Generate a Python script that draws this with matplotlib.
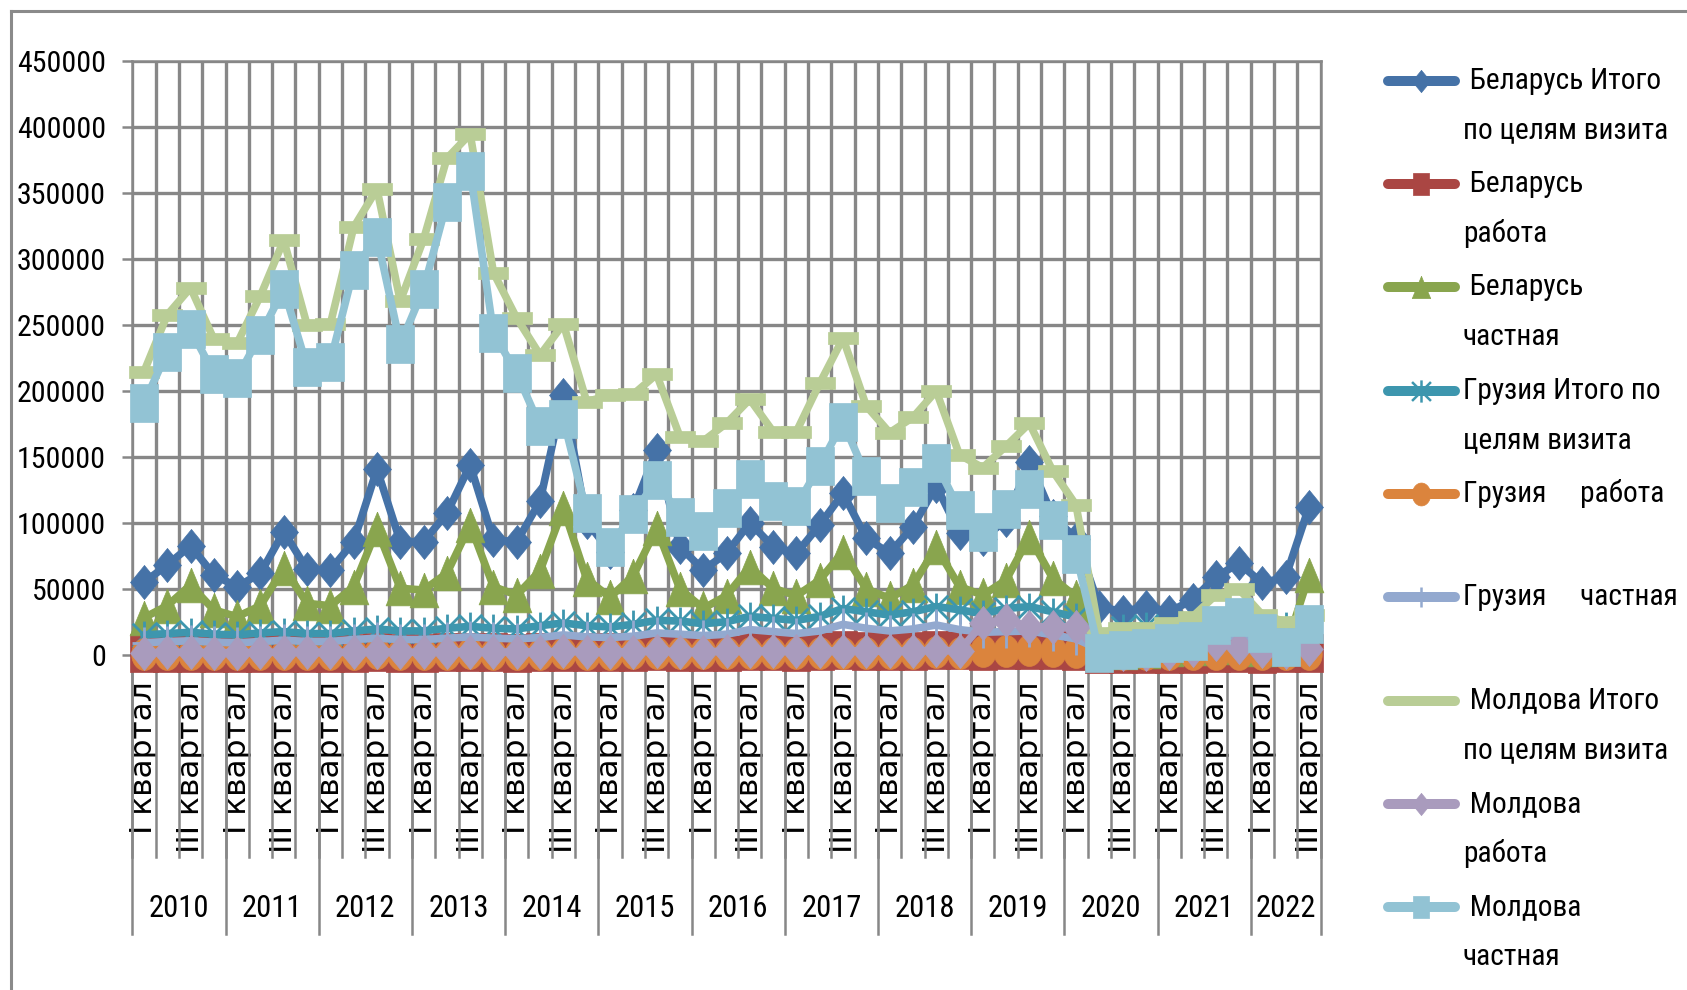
import os
import numpy as np
import matplotlib
matplotlib.use("Agg")
import matplotlib.pyplot as plt
from matplotlib import font_manager
from matplotlib.font_manager import FontProperties
from matplotlib.lines import Line2D
from matplotlib.path import Path
import matplotlib.transforms as mtransforms

# ---------------- data ----------------
years = ['2010', '2011', '2012', '2013', '2014', '2015', '2016',
         '2017', '2018', '2019', '2020', '2021', '2022']
quarters_per_year = [4, 4, 4, 4, 4, 4, 4, 4, 4, 4, 4, 4, 3]
quarter_names = ['I квартал', 'II квартал', 'III квартал', 'IV квартал']

series_names = ['Беларусь Итого по целям визита', 'Беларусь работа', 'Беларусь частная',
                'Грузия Итого по целям визита', 'Грузия     работа', 'Грузия     частная',
                'Молдова Итого по целям визита', 'Молдова работа', 'Молдова частная']
legend_labels = [' Беларусь Итого\nпо целям визита', ' Беларусь\nработа', ' Беларусь\nчастная',
                 'Грузия Итого по\nцелям визита', 'Грузия     работа', 'Грузия     частная',
                 ' Молдова Итого\nпо целям визита', ' Молдова\nработа', ' Молдова\nчастная']

belarus_total = [54800, 68000, 82600, 60400, 51500, 61700, 93200, 64700, 64200, 85600,
                 140500, 85600, 85600, 107100, 143700, 86900, 85600, 116400, 197000, 100800,
                 78000, 110000, 155100, 81800, 64200, 76800, 100000, 81800, 76800, 98300,
                 122300, 88200, 76800, 97000, 128000, 92000, 88000, 102000, 146200, 105000,
                 88000, 36400, 32600, 36400, 32600, 41400, 59100, 69200, 54100, 59100, 112100]
belarus_work = [1200, 1300, 1500, 1200, 1100, 1300, 1600, 1300, 1300, 1500,
                1900, 1500, 1500, 1700, 2100, 1700, 1600, 1800, 2300, 1800,
                1700, 2000, 2500, 2100, 1900, 2300, 2900, 2500, 2400, 2800,
                3500, 3000, 2700, 3100, 3800, 3200, 2900, 3300, 3900, 3300,
                2800, 500, 600, 700, 700, 800, 1000, 1000, 900, 1000, 1500]
belarus_private = [28000, 37100, 52800, 33900, 28800, 37100, 65900, 38900, 37100, 51500,
                   95200, 50300, 49000, 61700, 98300, 51500, 45200, 63600, 110900, 57300,
                   43500, 59900, 95700, 49800, 35100, 44700, 66700, 50300, 44700, 56600,
                   78000, 49800, 42700, 52800, 81400, 51500, 45200, 56600, 89400, 57900,
                   43900, 3000, 2000, 3000, 4000, 5000, 6000, 7000, 4000, 5000, 60100]
georgia_total = [15000, 16000, 17000, 15500, 15000, 16500, 17500, 16000, 16000, 18000,
                 19500, 18000, 18000, 20000, 21500, 20000, 19500, 22000, 24000, 22000,
                 21000, 23000, 26000, 25500, 23500, 25000, 29000, 27500, 26000, 29000,
                 35000, 32500, 30000, 32500, 36500, 34000, 31000, 35000, 36500, 32500,
                 28500, 10000, 20000, 22000, 18000, 20000, 25000, 25000, 20000, 22000, 25000]
georgia_work = [600, 700, 800, 700, 600, 700, 900, 700, 700, 800,
                1000, 800, 800, 900, 1100, 900, 800, 900, 1200, 900,
                900, 1000, 1300, 1100, 1000, 1100, 1400, 1200, 1100, 1300,
                1600, 1400, 1300, 1400, 1700, 1500, 2500, 2800, 3200, 2700,
                2200, 300, 400, 500, 400, 500, 600, 600, 500, 600, 700]
georgia_private = [9000, 10000, 10500, 9500, 9000, 10000, 11000, 10000, 10000, 11500,
                   12500, 11500, 11500, 12500, 13500, 12500, 12000, 13000, 15000, 13500,
                   13000, 14000, 16500, 15500, 14500, 15500, 19000, 17500, 16000, 18000,
                   23000, 20000, 18000, 19500, 22500, 19000, 17000, 17500, 18000, 15000,
                   12000, 4000, 8000, 10000, 8000, 10000, 13000, 14000, 9000, 10000, 13000]
moldova_total = [214400, 257400, 278000, 239000, 236000, 272000, 314000, 249800, 250500, 323800,
                 352800, 268000, 314700, 376000, 394500, 289400, 254900, 227000, 250500, 191700,
                 196700, 197300, 212400, 165200, 161900, 175300, 193500, 169000, 169000, 205600,
                 239700, 188400, 168200, 179800, 199800, 151300, 141700, 158100, 175300, 139200,
                 113400, 16200, 20000, 20000, 23800, 28800, 45200, 49500, 30100, 25000, 30000]
moldova_work = [1500, 1700, 1900, 1600, 1500, 1700, 2000, 1700, 1700, 1900,
                2200, 1900, 1900, 2100, 2400, 2100, 2000, 2200, 2500, 2200,
                2100, 2300, 2700, 2400, 2300, 2500, 2900, 2600, 2500, 2700,
                3100, 2800, 2600, 2800, 3200, 2900, 23800, 26300, 21200, 21200,
                21200, 500, 600, 800, 1500, 3500, 8000, 6000, 3000, 2000, 4500]
moldova_private = [190500, 229300, 246500, 212900, 209800, 242400, 277000, 218100, 222100, 291400,
                   316400, 235100, 277000, 342700, 366400, 243500, 213200, 173000, 178600, 107100,
                   81600, 106800, 132400, 104300, 93500, 111100, 133400, 116700, 112700, 143000,
                   176300, 135400, 114700, 126800, 145000, 109600, 93200, 110100, 125800, 102000,
                   76300, 1500, 3500, 5000, 8600, 10400, 22500, 28800, 16200, 6100, 23000]

all_values = [belarus_total, belarus_work, belarus_private,
              georgia_total, georgia_work, georgia_private,
              moldova_total, moldova_work, moldova_private]

y_max, y_step = 450000, 50000

# ---------------- styles ----------------
W, H = 1687, 990
GRID = '#878787'

diamond = [(0, 1), (0.82, 0), (0, -1), (-0.82, 0), (0, 1)]
square = [(-0.72, -1), (0.72, -1), (0.72, 1), (-0.72, 1), (-0.72, -1)]
triangle = [(0, 1), (0.83, -1), (-0.83, -1), (0, 1)]
dash = [(-1, -0.38), (1, -0.38), (1, 0.38), (-1, 0.38), (-1, -0.38)]
th = np.linspace(0, 2 * np.pi, 40)
ellipse = list(zip(0.8 * np.cos(th), np.sin(th)))
star = Path([(-0.85, -0.85), (0.85, 0.85), (-0.85, 0.85), (0.85, -0.85), (0, -1), (0, 1)],
            [Path.MOVETO, Path.LINETO, Path.MOVETO, Path.LINETO, Path.MOVETO, Path.LINETO])
plus = Path([(-0.75, 0), (0.75, 0), (0, -1), (0, 1)],
            [Path.MOVETO, Path.LINETO, Path.MOVETO, Path.LINETO])

styles = [
    dict(color='#4572A7', marker=diamond, ms=24.5, lms=16, filled=True),
    dict(color='#AA4643', marker=square, ms=28, lms=16.5, filled=True),
    dict(color='#89A54E', marker=triangle, ms=25, lms=16, filled=True),
    dict(color='#3D96AE', marker=star, ms=20, lms=16, filled=False),
    dict(color='#DB843D', marker=ellipse, ms=23, lms=16.5, filled=True),
    dict(color='#93A9CF', marker=plus, ms=23, lms=14.5, filled=False),
    dict(color='#B9CD96', marker=dash, ms=21, lms=None, filled=True),
    dict(color='#A99BBD', marker=diamond, ms=24.5, lms=16, filled=True),
    dict(color='#92C3D4', marker=square, ms=28, lms=16.5, filled=True),
]

# ---------------- fonts ----------------
def find_font_file(keys):
    files = [f.fname for f in font_manager.fontManager.ttflist]
    for key in keys:
        for fn in files:
            if os.path.basename(fn).lower().startswith(key.lower()):
                return fn
    return None

narrow_file = find_font_file(['LiberationSansNarrow-Regular', 'RobotoCondensed-Regular',
                              'OpenSansCondensed-Light', 'DejaVuSansCondensed.ttf'])

def narrow(size):
    if narrow_file:
        return FontProperties(fname=narrow_file, size=size)
    return FontProperties(family='Liberation Sans', size=size * 0.85)

# ---------------- figure ----------------
fig = plt.figure(figsize=(W / 100, H / 100), dpi=100)
fig.patch.set_facecolor('white')
ax = fig.add_axes([132.3 / W, 1 - 654.7 / H, (1320.7 - 132.3) / W, 594 / H])

n = sum(quarters_per_year)
x = np.arange(n)

for i, (vals, st) in enumerate(zip(all_values, styles)):
    kw = dict(color=st['color'], lw=5.5, solid_joinstyle='round', solid_capstyle='round',
              marker=st['marker'], ms=st['ms'], mec=st['color'], clip_on=False, zorder=3 + i)
    if st['filled']:
        kw.update(mfc=st['color'], mew=0.5)
    else:
        kw.update(mfc='none', mew=2.0)
    ax.plot(x, vals, **kw)

ax.set_xlim(-0.5, n - 0.5)
ax.set_ylim(0, y_max)
yt = np.arange(0, y_max + 1, y_step)
ax.set_yticks(yt)
ax.set_yticklabels([str(int(v)) for v in yt])
for lab in ax.get_yticklabels():
    lab.set_fontproperties(narrow(21.5))

cat_labels = []
for yr, nq in zip(years, quarters_per_year):
    cat_labels += quarter_names[:nq]
ax.set_xticks(x[::2])
ax.set_xticklabels(cat_labels[::2], rotation=90, fontsize=22.5, family='DejaVu Sans')

ax.set_xticks(np.arange(-0.5, n, 1), minor=True)
ax.set_axisbelow(True)
ax.grid(True, which='minor', axis='x', color=GRID, lw=2.4)
ax.grid(True, which='major', axis='y', color=GRID, lw=2.4)
ax.tick_params(axis='x', which='both', length=0, pad=19.4)
ax.tick_params(axis='y', which='major', length=7, width=1.8, color=GRID, pad=12)
for sp in ax.spines.values():
    sp.set_color(GRID)
    sp.set_linewidth(1.8)

# multi-level category separators and year labels
bt = mtransforms.blended_transform_factory(ax.transData, ax.transAxes)
for b in range(n + 1):
    ax.plot([b - 0.5, b - 0.5], [0, -0.34], transform=bt, color=GRID, lw=1.8, clip_on=False)
start = 0
ax.plot([start - 0.5] * 2, [0, -0.471], transform=bt, color=GRID, lw=1.8, clip_on=False)
for yr, nq in zip(years, quarters_per_year):
    end = start + nq
    ax.plot([end - 0.5] * 2, [0, -0.471], transform=bt, color=GRID, lw=1.8, clip_on=False)
    ax.text((start + end - 1) / 2, -0.428, yr, transform=bt, ha='center', va='center',
            fontproperties=narrow(22))
    start = end

# outer chart border
fig.add_artist(Line2D([11 / W, 1.0], [1 - 11 / H] * 2, transform=fig.transFigure, color='#8a8a8a', lw=2.2))
fig.add_artist(Line2D([11 / W] * 2, [0.0, 1 - 11 / H], transform=fig.transFigure, color='#8a8a8a', lw=2.2))

# legend (pixel coordinates, origin top-left)
T = mtransforms.Affine2D().scale(1 / W, -1 / H).translate(0, 1) + fig.transFigure
leg_y0, leg_dy, line_dy = 80.7, 103.3, 49.5
for i, (lab, st) in enumerate(zip(legend_labels, styles)):
    yy = leg_y0 + i * leg_dy
    fig.add_artist(Line2D([1388, 1455], [yy, yy], transform=T, color=st['color'], lw=7.2,
                          solid_capstyle='round'))
    if st['lms']:
        fig.add_artist(Line2D([1421.5], [yy], transform=T, marker=st['marker'], ms=st['lms'],
                              mfc=st['color'] if st['filled'] else 'none', mec=st['color'],
                              mew=0.5 if st['filled'] else 1.8, lw=0))
    for k, part in enumerate(lab.split('\n')):
        fig.text(1463, yy + k * line_dy, part, transform=T, ha='left', va='center',
                 fontproperties=narrow(21.2))

fig.savefig('out.png', dpi=100, facecolor='white')
